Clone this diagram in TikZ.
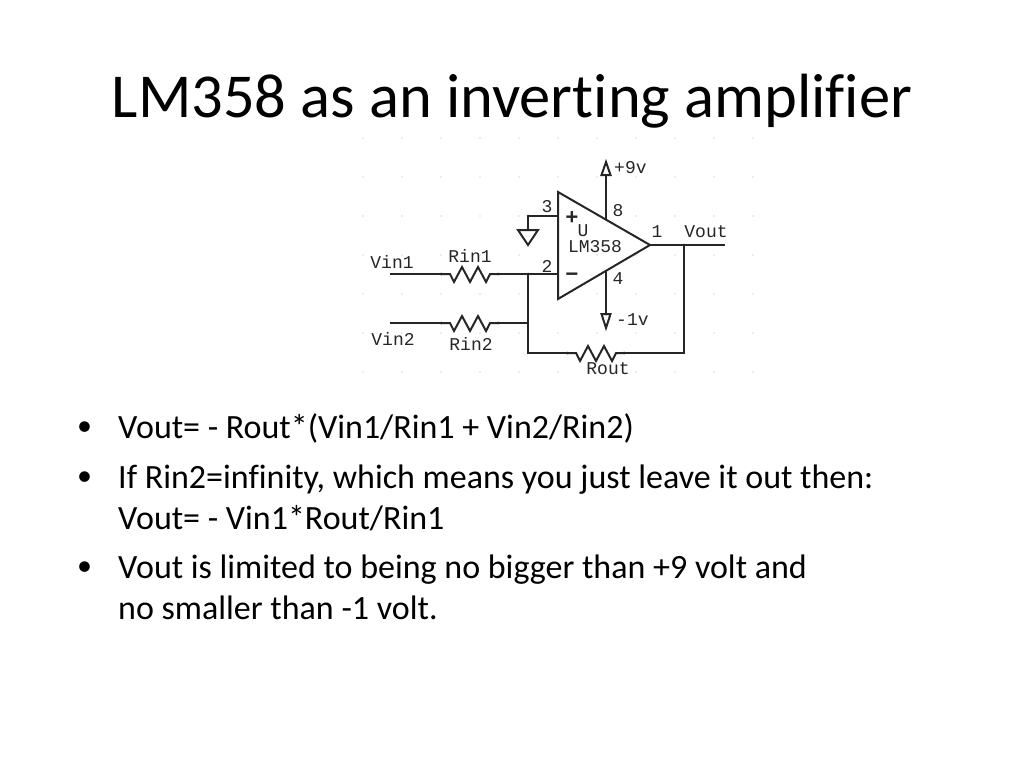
\documentclass[tikz,border=0pt]{standalone}
\usepackage{fontspec}
\setmainfont[Ligatures=NoCommon]{Carlito}
\newfontfamily\schfont{Liberation Mono}
\tikzset{
  wire/.style={color=black!85, line width=2pt, line join=miter},
  lbl/.style={font=\schfont\fontsize{18}{18}\selectfont, inner sep=0pt, text=black!85},
  sgn/.style={font=\schfont\bfseries\fontsize{22}{22}\selectfont, inner sep=0pt, text=black!85},
  ttl/.style={font=\fontsize{62.5}{64}\selectfont, inner sep=0pt, anchor=base},
  bul/.style={font=\fontsize{34}{36}\selectfont, inner sep=0pt, anchor=base west},
  bdot/.style={font=\fontsize{30}{30}\selectfont, inner sep=0pt, anchor=base west},
  griddot/.style={fill=black!30}
}
\newcommand{\zigres}[3]{
  \coordinate (#1a) at (#2,#3);
  \coordinate (#1b) at (#2+57,#3);
  \fill[black!85] (#1a) circle(1.5);
  \fill[black!85] (#1b) circle(1.5);
  \draw[wire] (#1a) -- ++(9,0) -- ++(4,8) -- ++(8,-15) -- ++(8,15) -- ++(8,-15) -- ++(8,15) -- ++(4,-8) -- (#1b);
}
\begin{document}
\begin{tikzpicture}[x=1pt,y=-1pt]
  \useasboundingbox (0,0) rectangle (1024,768);
  \node[ttl] (title) at (512,117) {LM358 as an inverting amplifier};

  \foreach \x in {363,402,...,753}{
    \foreach \y in {138,177,...,372}{
      \fill[griddot] (\x,\y) circle(0.7);
    }
  }

  \coordinate (ampT) at (558,192);
  \coordinate (ampB) at (558,299);
  \coordinate (ampO) at (650,245);
  \draw[wire] (ampT) -- (ampO) -- (ampB) -- cycle;

  \coordinate (pinP) at (558,216);
  \coordinate (pinN) at (558,274);
  \coordinate (junP) at (528,216);
  \coordinate (junN) at (528,274);
  \coordinate (junR) at (528,323);
  \coordinate (corBL) at (528,353);
  \coordinate (corBR) at (684,353);
  \coordinate (junO) at (684,245);
  \coordinate (endO) at (725,245);
  \coordinate (inA) at (390,274);
  \coordinate (inB) at (390,323);
  \coordinate (gndT) at (528,230);
  \coordinate (supT) at (606,219);
  \coordinate (supTe) at (606,175);
  \coordinate (supB) at (606,271);
  \coordinate (supBe) at (606,314);

  \zigres{rinA}{441}{274}
  \zigres{rinB}{441}{323}
  \zigres{rout}{567}{353}

  \draw[wire] (inA) -- (rinAa);
  \draw[wire] (rinAb) -- (pinN);
  \draw[wire] (inB) -- (rinBa);
  \draw[wire] (rinBb) -- (junR);
  \draw[wire] (junN) -- (corBL) -- (routa);
  \draw[wire] (routb) -- (corBR) -- (junO);
  \draw[wire] (ampO) -- (endO);
  \draw[wire] (junP) -- (pinP);
  \draw[wire] (junP) -- (gndT);
  \draw[wire] (supT) -- (supTe);
  \draw[wire] (supB) -- (supBe);

  \draw[wire] (gndT) ++(-10,0) -- ++(20,0) -- ++(-10,15) -- cycle;
  \draw[wire] (supTe) ++(-4.5,0) -- ++(9,0) -- ++(-4.5,-13) -- cycle;
  \draw[wire] (supBe) ++(-4.5,0) -- ++(9,0) -- ++(-4.5,14) -- cycle;

  \foreach \p in {junP,junN,junO,supTe,supBe}{
    \fill[black!85] (\p) circle(1.5);
  }

  \node[lbl] (lvina) at (392,262) {Vin1};
  \node[lbl] (lvinb) at (393,339) {Vin2};
  \node[lbl] (lrina) at (470,256) {Rin1};
  \node[lbl] (lrinb) at (471,344) {Rin2};
  \node[lbl] (lrout) at (608,369) {Rout};
  \node[lbl] (lvout) at (706,232) {Vout};
  \node[lbl] (lpthr) at (547,207) {3};
  \node[lbl] (lptwo) at (547,266) {2};
  \node[lbl] (lpeig) at (618,211) {8};
  \node[lbl] (lpfou) at (618,279) {4};
  \node[lbl] (lpone) at (657,232) {1};
  \node[lbl] (lu) at (583,231) {U};
  \node[lbl] (lamp) at (595,247) {LM358};
  \node[sgn] (lplus) at (572,218) {+};
  \node[sgn] (lminus) at (572,277) {−};
  \node[lbl, anchor=west] (lnine) at (614,168) {+9v};
  \node[lbl, anchor=west] (lone) at (616,320) {-1v};

  \node[bdot] (dota) at (77,435) {•};
  \node[bul] (txta) at (118,438) {Vout= - Rout*(Vin1/Rin1 + Vin2/Rin2)};
  \node[bdot] (dotb) at (77,485) {•};
  \node[bul] (txtb) at (118,488) {If Rin2=infinity, which means you just leave it out then:};
  \node[bul] (txtc) at (118,529) {Vout= - Vin1*Rout/Rin1};
  \node[bdot] (dotc) at (77,575) {•};
  \node[bul] (txtd) at (118,578) {Vout is limited to being no bigger than +9 volt and};
  \node[bul] (txte) at (118,619) {no smaller than -1 volt.};
\end{tikzpicture}
\end{document}
